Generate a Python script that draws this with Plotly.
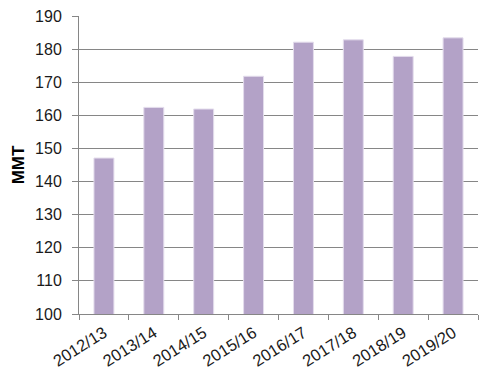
import plotly.graph_objects as go

categories = ["2012/13", "2013/14", "2014/15", "2015/16", "2016/17", "2017/18", "2018/19", "2019/20"]
values = [147.1, 162.4, 161.9, 171.8, 182.1, 182.8, 177.8, 183.4]
y_ticks = [100, 110, 120, 130, 140, 150, 160, 170, 180, 190]

fig = go.Figure(go.Bar(
    x=categories, y=values,
    marker=dict(color="#b3a2c7", line=dict(color="#e3dcec", width=1)),
))

fig.update_layout(
    width=501, height=377,
    margin=dict(l=79, r=23, t=16, b=63),
    plot_bgcolor="white", paper_bgcolor="white",
    bargap=0.6,
    showlegend=False,
    font=dict(family="Liberation Sans, Arial, sans-serif", color="#1a1a1a"),
)
fig.update_xaxes(
    type="category",
    automargin=False,
    tickangle=-32,
    tickfont=dict(size=16.5),
    showline=True, linecolor="#868686", linewidth=1,
    ticks="outside", tickson="boundaries", ticklen=5, tickcolor="#868686",
    ticklabelstandoff=2,
    showgrid=False,
)
fig.update_yaxes(
    range=[100, 190],
    automargin=False,
    tickvals=y_ticks,
    tickfont=dict(size=16),
    showline=True, linecolor="#868686", linewidth=1,
    ticks="outside", ticklen=6, tickcolor="#868686",
    showgrid=True, gridcolor="#868686", gridwidth=1,
    zeroline=False,
    ticklabelstandoff=7,
    title=dict(text="<b>MMT</b>", font=dict(size=17, color="#000000"), standoff=6),
)

fig.write_html("out.html")
